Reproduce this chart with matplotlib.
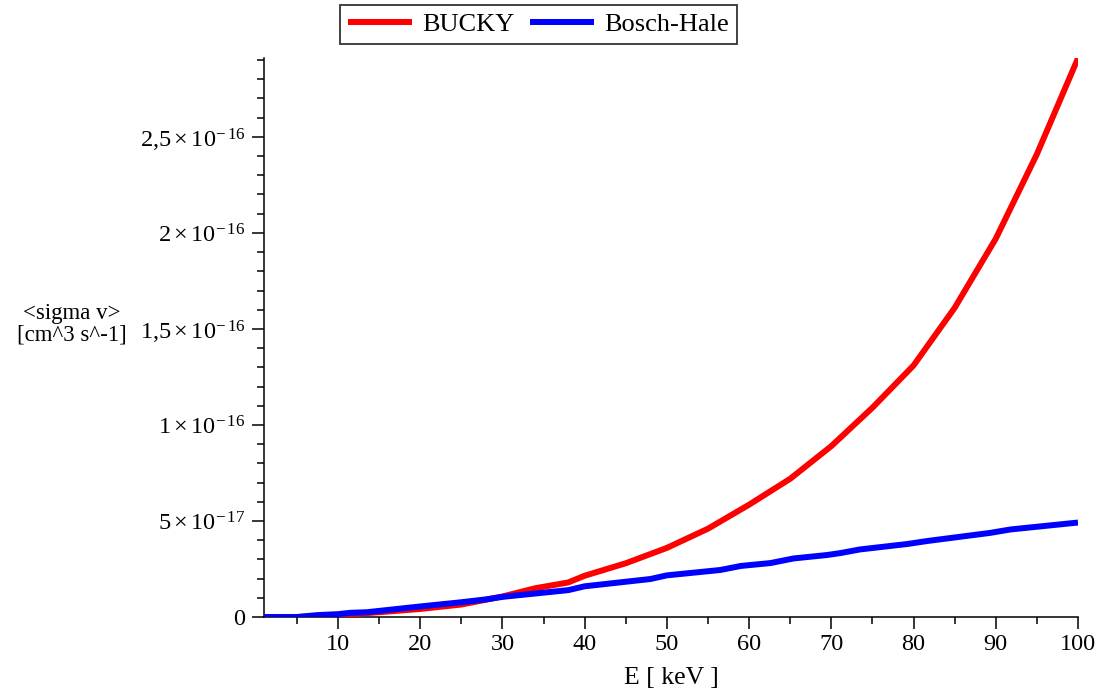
import matplotlib
matplotlib.use("Agg")
import matplotlib.pyplot as plt
import numpy as np
from matplotlib.ticker import FixedLocator, MultipleLocator

plt.rcParams["font.family"] = ["Liberation Serif", "DejaVu Serif"]
plt.rcParams["mathtext.fontset"] = "custom"
plt.rcParams["mathtext.rm"] = "Liberation Serif"
plt.rcParams["mathtext.it"] = "Liberation Serif:italic"
plt.rcParams["mathtext.bf"] = "Liberation Serif:bold"

# BUCKY reaction rate, units of 1e-17 cm^3/s
bucky_e = [1, 5, 10, 15, 20, 25, 28, 30, 34, 38, 40, 45, 50, 55, 60, 65,
           70, 75, 80, 85, 90, 95, 100]
bucky_sv = [0, 0, 0.1, 0.25, 0.42, 0.65, 0.9, 1.07, 1.5, 1.8, 2.15, 2.8, 3.6,
            4.6, 5.85, 7.2, 8.9, 10.9, 13.1, 16.1, 19.7, 24.1, 29.1]

# Bosch-Hale fit, units of 1e-17 cm^3/s
bh_e = [1, 5, 7.5, 10, 11.5, 13.5, 20, 25, 28, 30, 38, 40, 48, 50, 56.5, 59,
        62.6, 65.4, 69.5, 71.1, 73.5, 79.2, 81.7, 89.3, 91.8, 100]
bh_sv = [0, 0, 0.1, 0.15, 0.22, 0.25, 0.55, 0.77, 0.92, 1.05, 1.4, 1.6, 1.98,
         2.17, 2.45, 2.66, 2.81, 3.05, 3.23, 3.33, 3.52, 3.8, 3.96, 4.38,
         4.56, 4.92]

y_ticks = [0, 5e-17, 1e-16, 1.5e-16, 2e-16, 2.5e-16]
y_tick_labels = ["0",
                 r"$5\times10^{-\,17}$",
                 r"$1\times10^{-\,16}$",
                 r"$1{,}5\times10^{-\,16}$",
                 r"$2\times10^{-\,16}$",
                 r"$2{,}5\times10^{-\,16}$"]
x_ticks = [10, 20, 30, 40, 50, 60, 70, 80, 90, 100]

fig = plt.figure(figsize=(10.99, 6.98), dpi=100, facecolor="white")
ax = fig.add_axes([0.2402, 0.116, 0.7407, 0.801])

scale = 1e-17
ax.plot(bucky_e, np.array(bucky_sv) * scale, color="#ff0000", linewidth=4.3,
        label="BUCKY", solid_capstyle="butt", zorder=3)
ax.plot(bh_e, np.array(bh_sv) * scale, color="#0000ff", linewidth=4.3,
        label="Bosch-Hale", solid_capstyle="butt", zorder=4)

ax.set_xlim(1, 100)
ax.set_ylim(0, 2.911e-16)

for side in ("top", "right"):
    ax.spines[side].set_visible(False)
for side in ("left", "bottom"):
    ax.spines[side].set_linewidth(1.1)

ax.xaxis.set_major_locator(FixedLocator(x_ticks))
ax.xaxis.set_minor_locator(FixedLocator([5, 15, 25, 35, 45, 55, 65, 75, 85, 95]))
ax.set_xticklabels([str(t) for t in x_ticks])
ax.yaxis.set_major_locator(FixedLocator(y_ticks))
ax.yaxis.set_minor_locator(MultipleLocator(1e-17))
ax.set_yticklabels(y_tick_labels)

ax.tick_params(which="major", length=8.5, width=1.1, labelsize=17.5, direction="out", pad=4)
ax.tick_params(axis="y", which="major", pad=5)
ax.tick_params(which="minor", length=4.8, width=1.1, direction="out")

ax.set_xlabel("E [ keV ]", fontsize=18.5, labelpad=8)
fig.text(0.065, 0.535, "<sigma v>\n[cm^3 s^-1]", fontsize=16.5, ha="center",
         va="center", linespacing=1.05)

leg = fig.legend(loc="upper center", bbox_to_anchor=(0.49, 0.993), ncol=2,
                 fontsize=19, frameon=True, fancybox=False, handlelength=2.4,
                 handletextpad=0.4, columnspacing=0.6, borderpad=0.3,
                 borderaxespad=0)
leg.get_frame().set_edgecolor("black")
leg.get_frame().set_linewidth(1.3)

fig.savefig("out.png", dpi=100, facecolor=fig.get_facecolor())
